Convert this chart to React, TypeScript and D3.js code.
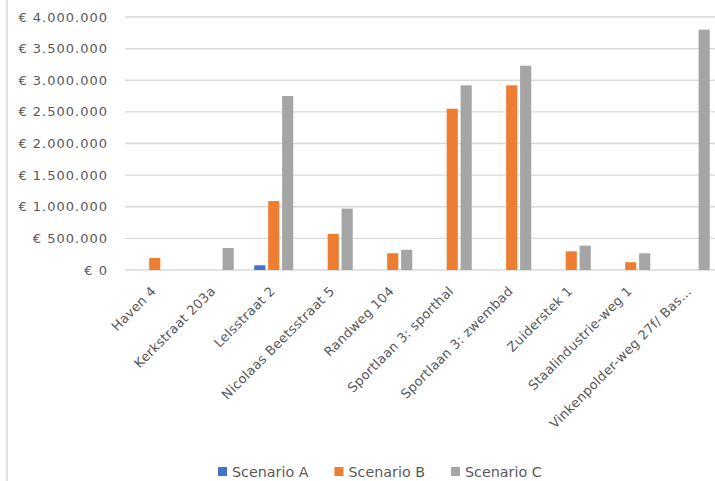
import React, { useEffect, useRef } from "react";
import * as d3 from "d3";

const categories = [
  "Haven 4",
  "Kerkstraat 203a",
  "Lelsstraat 2",
  "Nicolaas Beetsstraat 5",
  "Randweg 104",
  "Sportlaan 3: sporthal",
  "Sportlaan 3: zwembad",
  "Zuiderstek 1",
  "Staalindustrie-weg 1",
  "Vinkenpolder-weg 27f/ Bas…",
];
const seriesNames = ["Scenario A", "Scenario B", "Scenario C"];
const scenarioA = [0, 0, 75000, 0, 0, 0, 0, 0, 0, 0];
const scenarioB = [190000, 0, 1090000, 570000, 265000, 2550000, 2920000, 295000, 122000, 0];
const scenarioC = [0, 348000, 2750000, 970000, 320000, 2920000, 3230000, 385000, 264000, 3800000];
const yTicks = [0, 500000, 1000000, 1500000, 2000000, 2500000, 3000000, 3500000, 4000000];
const colors = ["#4472C4", "#ED7D31", "#A5A5A5"];

const W = 715;
const H = 481;
const FONT = "'DejaVu Sans', sans-serif";
const TEXT = "#595959";

function fmt(v: number) {
  const s = Math.round(v).toString().replace(/\B(?=(\d{3})+(?!\d))/g, ".");
  return "€ " + s;
}

export default function App() {
  const ref = useRef<SVGSVGElement>(null);
  useEffect(() => {
    const svg = d3.select(ref.current);
    svg.selectAll("*").remove();
    const left = 125;
    const right = 720;
    const y0 = 270;
    const yTop = 17;

    const x = d3.scaleBand<string>().domain(categories).range([left, right]).padding(0);
    const x1 = d3.scaleBand<string>().domain(seriesNames).range([-19.5, 19.5]).paddingInner(0.2);
    const y = d3.scaleLinear().domain([0, 4000000]).range([y0, yTop]);

    // border
    svg.append("line").attr("x1", 7).attr("x2", 7).attr("y1", 0).attr("y2", H)
      .attr("stroke", "#d9d9d9").attr("stroke-width", 1.5);

    // gridlines
    svg.append("g").selectAll("line").data(yTicks).join("line")
      .attr("x1", left).attr("x2", W)
      .attr("y1", (d) => y(d)).attr("y2", (d) => y(d))
      .attr("stroke", "#d9d9d9").attr("stroke-width", 1.3);

    // y labels
    svg.append("g").selectAll("text").data(yTicks).join("text")
      .attr("x", 108).attr("y", (d) => y(d)).attr("dy", "0.35em")
      .attr("text-anchor", "end").attr("font-family", FONT).attr("font-size", 13)
      .attr("letter-spacing", 1).attr("fill", TEXT)
      .text((d) => fmt(d));

    // bars
    const series = [scenarioA, scenarioB, scenarioC];
    series.forEach((vals, si) => {
      svg.append("g").selectAll("rect").data(vals).join("rect")
        .attr("x", (_d, i) => (x(categories[i]) as number) + x.bandwidth() / 2 + (x1(seriesNames[si]) as number))
        .attr("width", x1.bandwidth())
        .attr("y", (d) => y(d))
        .attr("height", (d) => y0 - y(d))
        .attr("fill", colors[si]);
    });

    // category labels
    svg.append("g").selectAll("text").data(categories).join("text")
      .attr("transform", (d) => `translate(${(x(d) as number) + x.bandwidth() / 2 + 2},${292}) rotate(-45)`)
      .attr("text-anchor", "end").attr("font-family", FONT).attr("font-size", 13)
      .attr("letter-spacing", 0.3)
      .attr("fill", TEXT).text((d) => d);

    // legend
    const lg = svg.append("g");
    let cx = 218;
    seriesNames.forEach((name, i) => {
      lg.append("rect").attr("x", cx).attr("y", 467).attr("width", 9).attr("height", 9).attr("fill", colors[i]);
      const t = lg.append("text").attr("x", cx + 14).attr("y", 476.5)
        .attr("font-family", FONT).attr("font-size", 14.3).attr("fill", TEXT).text(name);
      const w = (t.node() as SVGTextElement).getComputedTextLength();
      cx += 14 + w + 26;
    });
  }, []);
  return (
    <svg ref={ref} width={W} height={H} style={{ position: "absolute", left: 0, top: 0, background: "#fff" }} />
  );
}
